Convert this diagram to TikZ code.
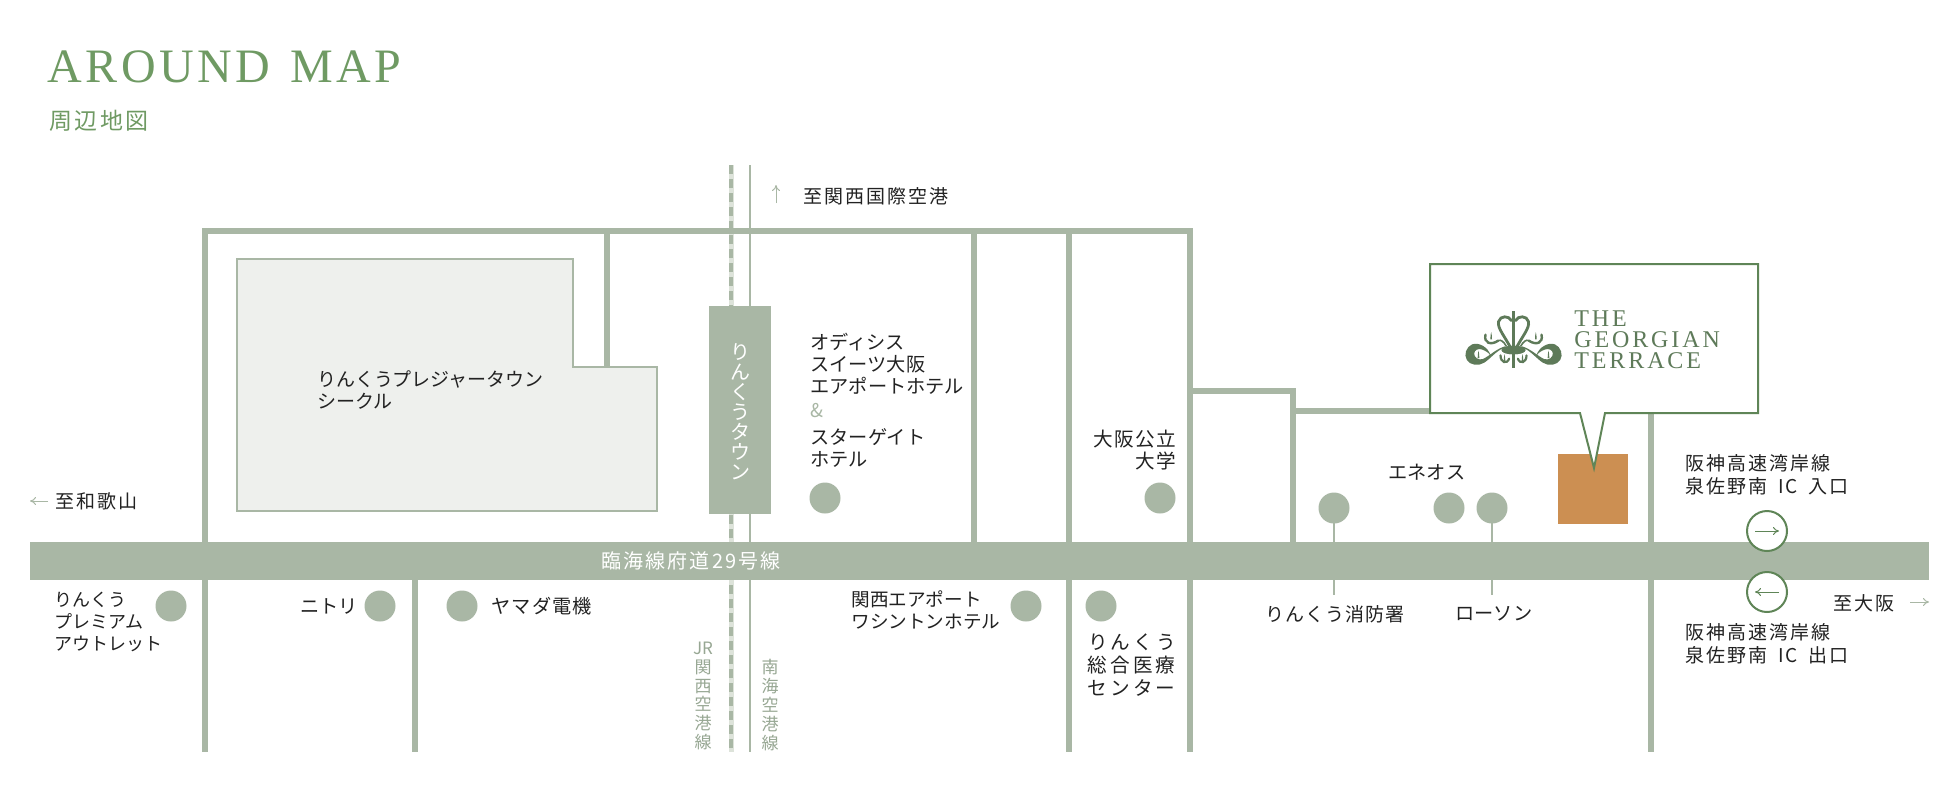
\documentclass[tikz,border=0pt]{standalone}
\usepackage{fontspec}
\usetikzlibrary{arrows.meta}
\setmainfont{Noto Sans CJK JP}
\newfontfamily\jpn{Noto Sans CJK JP}
\newfontfamily\jpw[LetterSpace=11]{Noto Sans CJK JP}
\newfontfamily\jpv[LetterSpace=6]{Noto Sans CJK JP}
\newfontfamily\jpx[LetterSpace=16]{Noto Sans CJK JP}
\newfontfamily\titlef[LetterSpace=7.5]{Liberation Serif}
\newfontfamily\logof[LetterSpace=12]{Liberation Serif}
\definecolor{road}{HTML}{A9B7A5}
\definecolor{railedge}{HTML}{DDE3DA}
\definecolor{park}{HTML}{EEF0ED}
\definecolor{deepgreen}{HTML}{5F8557}
\definecolor{titlegreen}{HTML}{6F9A63}
\definecolor{logogreen}{HTML}{5E7A59}
\definecolor{site}{HTML}{CC8F52}
\definecolor{ink}{HTML}{222222}
\definecolor{railtext}{HTML}{97A793}
\tikzset{
  roadline/.style={draw=road,line width=3pt},
  spot/.style={circle,fill=road,minimum size=15.5pt,inner sep=0pt},
  lab/.style={anchor=west,inner sep=0pt,align=left,text=ink,font=\jpn\fontsize{9.6}{11}\selectfont},
  labw/.style={anchor=west,inner sep=0pt,align=left,text=ink,font=\jpw\fontsize{9.5}{11.5}\selectfont},
  labr/.style={anchor=east,inner sep=0pt,align=right,text=ink,font=\jpv\fontsize{9.8}{11}\selectfont},
  stack/.style={inner sep=0pt,align=center,text=railtext,font=\jpn\fontsize{8.5}{9.4}\selectfont},
  icring/.style={circle,draw=deepgreen,fill=white,line width=1pt,minimum size=20pt,inner sep=0pt},
  thinarrow/.style={line width=0.5pt,-{To[length=3pt,width=4pt]}},
  logoline/.style={draw=logogreen,line cap=round}
}
\newcommand{\spire}[2]{%
  \fill[logogreen] (#1-2.5,#2+8) .. controls (#1-3,#2) and (#1-1,#2-8) .. (#1,#2-14) .. controls (#1+1,#2-8) and (#1+3,#2) .. (#1+2.5,#2+8) -- cycle;}
\newcommand{\logohalf}{%
  \fill[logogreen] (-68,168) .. controls (-76,140) and (-105,126) .. (-124,133)
     .. controls (-142,140) and (-150,165) .. (-140,180)
     .. controls (-130,196) and (-105,199) .. (-88,188)
     .. controls (-70,177) and (-50,150) .. (-25,142)
     -- (-25,139) .. controls (-50,145) and (-75,170) .. (-92,177)
     .. controls (-105,182) and (-119,172) .. (-118,160)
     .. controls (-117,150) and (-106,145) .. (-96,148)
     .. controls (-84,152) and (-74,158) .. (-68,168) -- cycle;
  \fill[logogreen] (0,150) ellipse [x radius=36,y radius=13];
  \spire{-105}{166}
  \spire{-27}{176}
  \spire{-67}{110}
  \draw[logoline,line width=1.1pt] (-39,166) .. controls (-39,188) and (-20,194) .. (-13,176);
  \draw[logoline,line width=1.2pt] (-84,104) .. controls (-90,129) and (-68,137) .. (-46,122);
  \draw[logoline,line width=0.8pt] (-46,122) .. controls (-38,118) and (-30,124) .. (-22,138);
  \draw[logoline,line width=1.4pt] (-6,62) .. controls (-14,46) and (-40,46) .. (-45,65)
     .. controls (-49,85) and (-25,110) .. (-8,145);
}
\begin{document}
\begin{tikzpicture}[x=0.5pt,y=-0.5pt]
\useasboundingbox (0,0) rectangle (1960,800);
\fill[white] (0,0) rectangle (1960,800);

% title
\node[anchor=west,inner sep=0pt,text=titlegreen,font=\titlef\fontsize{24}{24}\selectfont] (title) at (47,67) {AROUND\hspace{2pt} MAP};
\node[anchor=west,inner sep=0pt,text=titlegreen,font=\jpw\fontsize{11.5}{12}\selectfont] (subtitle) at (49,121) {周辺地図};

% rails
\draw[draw=railedge,line width=2.5pt] (731,165) -- (731,752);
\draw[draw=road,line width=1.8pt,dash pattern=on 4.5pt off 2.5pt] (731,165) -- (731,752);
\draw[draw=road,line width=1pt] (750,165) -- (750,752);

% roads
\draw[roadline] (202,231) -- (1193,231);
\draw[roadline] (205,231) -- (205,752);
\draw[roadline] (607,231) -- (607,367);
\draw[roadline] (974,231) -- (974,545);
\draw[roadline] (1069,231) -- (1069,752);
\draw[roadline] (1190,231) -- (1190,752);
\draw[roadline] (415,575) -- (415,752);
\draw[roadline] (1188,391) -- (1293,391) -- (1293,545);
\draw[roadline] (1293,411) -- (1435,411);
\draw[roadline] (1651,405) -- (1651,752);
\fill[road] (30,542) rectangle (1929,580);

% leisure block
\draw[draw=road,fill=park,line width=1pt] (237,259) -- (573,259) -- (573,367) -- (657,367) -- (657,511) -- (237,511) -- cycle;

% town block
\node[fill=road,minimum width=31pt,minimum height=104pt,inner sep=0pt] (town) at (740,410) {};
\node[inner sep=0pt,align=center,text=white,font=\jpn\fontsize{10}{10}\selectfont] (townlabel) at (740,412) {り\\ん\\く\\う\\タ\\ウ\\ン};

% site and balloon
\node[fill=site,minimum width=35pt,minimum height=35pt,inner sep=0pt] (sitebox) at (1593,489) {};
\draw[draw=deepgreen,fill=white,line width=1pt,line join=miter] (1430,264) -- (1758,264) -- (1758,413) -- (1605,413) -- (1594,468) -- (1580,413) -- (1430,413) -- cycle;
\begin{scope}[shift={(1513.5,300)},xscale=1/3,yscale=1/3]
  \logohalf
\end{scope}
\begin{scope}[shift={(1513.5,300)},xscale=-1/3,yscale=1/3]
  \logohalf
\end{scope}
\fill[logogreen] (1512,311) rectangle (1515,368);
\node[anchor=west,inner sep=0pt,align=left,text=logogreen,font=\logof\fontsize{12}{10.5}\selectfont] (logotext) at (1574,340) {THE\\GEORGIAN\\TERRACE};

% spots
\node[spot] (s1) at (171,606) {};
\node[spot] (s2) at (380,606) {};
\node[spot] (s3) at (462,606) {};
\node[spot] (s4) at (1026,606) {};
\node[spot] (s5) at (1101,606) {};
\node[spot] (s6) at (825,498) {};
\node[spot] (s7) at (1160,498) {};
\node[spot] (s8) at (1334,508) {};
\node[spot] (s9) at (1449,508) {};
\node[spot] (s10) at (1492,508) {};

% labels
\node[labw] (airport) at (803,196) {至関西国際空港};
\node[lab] (hotel1) at (810,364) {オディシス\\スイーツ大阪\\エアポートホテル};
\node[anchor=west,inner sep=0pt,text=road,font=\jpn\fontsize{9.5}{10}\selectfont] (amp) at (810,411) {\&};
\node[lab] (hotel2) at (810,448) {スターゲイト\\ホテル};
\node[lab,font=\jpn\fontsize{9.5}{11}\selectfont] (leisure) at (317,390) {りんくうプレジャータウン\\シークル};
\node[labr] (univ) at (1176,450) {大阪公立\\大学};
\node[lab] (eneos) at (1388,472) {エネオス};
\node[labw] (icin) at (1685,475) {阪神高速湾岸線\\泉佐野南\hspace{2pt} IC\hspace{2pt} 入口};
\node[labw] (icout) at (1685,644) {阪神高速湾岸線\\泉佐野南\hspace{2pt} IC\hspace{2pt} 出口};
\node[labw] (osaka) at (1833,603) {至大阪};
\node[labw] (waka) at (55,501) {至和歌山};
\node[inner sep=0pt,text=white,font=\jpw\fontsize{10}{10}\selectfont] (route) at (691,561) {臨海線府道29号線};
\node[anchor=west,inner sep=0pt,align=left,text=ink,font=\jpn\fontsize{9}{11}\selectfont] (outlet) at (54,622) {りんくう\\プレミアム\\アウトレット};
\node[lab] (nitori) at (300,606) {ニトリ};
\node[labw,font=\jpv\fontsize{9.6}{11}\selectfont] (yamada) at (491,606) {ヤマダ電機};
\node[lab,font=\jpn\fontsize{9.3}{11}\selectfont] (washington) at (851,610) {関西エアポート\\ワシントンホテル};
\node[anchor=east,inner sep=0pt,align=right,text=ink,font=\jpx\fontsize{9.8}{11.5}\selectfont] (med) at (1176,665) {りんくう\\総合医療\\センター};
\node[lab,font=\jpv\fontsize{9.5}{11}\selectfont] (fire) at (1265,614) {りんくう消防署};
\node[lab] (lawson) at (1455,614) {ローソン};
\node[stack] (jr) at (703,696) {JR\\関\\西\\空\\港\\線};
\node[stack] (nankai) at (770,705) {南\\海\\空\\港\\線};

% leaders
\draw[draw=road,line width=1pt] (s8.center) -- (1334,595);
\draw[draw=road,line width=1pt] (s10.center) -- (1492,595);

% interchange
\node[icring] (ic1) at (1767,531) {};
\node[icring] (ic2) at (1767,592) {};
\draw[thinarrow,draw=deepgreen] (1755,531) -- (1779,531);
\draw[thinarrow,draw=deepgreen] (1779,592) -- (1755,592);

% direction arrows
\draw[thinarrow,draw=road] (776,203) -- (776,185);
\draw[thinarrow,draw=road] (48,501) -- (30,501);
\draw[thinarrow,draw=road] (1910,602) -- (1929,602);
\end{tikzpicture}
\end{document}
